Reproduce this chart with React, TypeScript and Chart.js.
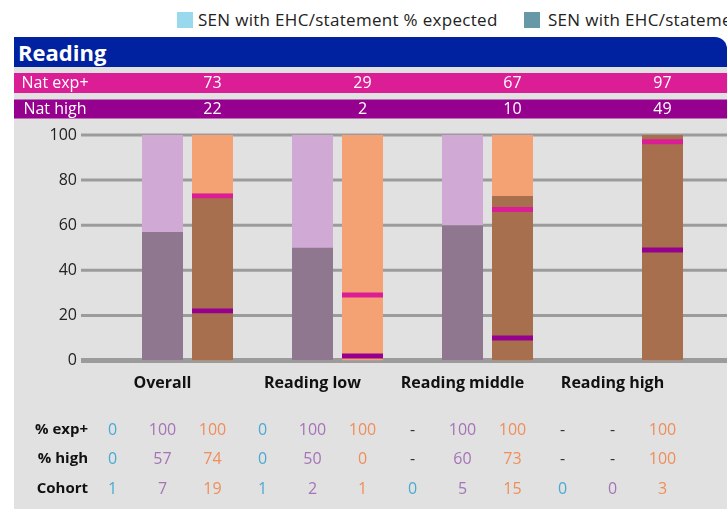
import React, { useEffect, useRef } from 'react';
import { Chart, registerables } from 'chart.js';

Chart.register(...registerables);

const categories = ['Overall', 'Reading low', 'Reading middle', 'Reading high'];
const natExpected = [73, 29, 67, 97];
const natHigh = [22, 2, 10, 49];

const ehcExpected: (number | null)[] = [0, 0, null, null];
const ehcHigh: (number | null)[] = [0, 0, null, null];
const ehcCohort = [1, 1, 0, 0];

const supportExpected: (number | null)[] = [100, 100, 100, null];
const supportHigh: (number | null)[] = [57, 50, 60, null];
const supportCohort = [7, 2, 5, 0];

const noSenExpected: (number | null)[] = [100, 100, 100, 100];
const noSenHigh: (number | null)[] = [74, 0, 73, 100];
const noSenCohort = [19, 1, 15, 3];

const yTicks = [0, 20, 40, 60, 80, 100];
const legendLabels = [
  'SEN with EHC/statement % expected',
  'SEN with EHC/statement % high',
];

const FONT = "'Open Sans', 'Noto Sans', sans-serif";
const C = {
  ehcLight: '#9ad8ee',
  ehcDark: '#6699a8',
  supLight: '#d0aad4',
  supDark: '#8f778f',
  nsLight: '#f4a273',
  nsDark: '#a86f4e',
  pink: '#dc1e96',
  purple: '#96008e',
  grid: '#9b9b9b',
  bg: '#e1e1e1',
  header: '#0022a0',
  tBlue: '#4aaad3',
  tPurple: '#a674b6',
  tOrange: '#f08e5a',
};

const range = (arr: (number | null)[]) => arr.map((v) => (v == null ? null : [0, v]));
const marker = (arr: number[]) => arr.map((v) => [v - 1.1, v + 1.1]);
const fmt = (v: number | null) => (v == null ? '-' : String(v));

// dataset indices
const EHC_META = 0;
const SUP_META = 2;
const NS_META = 6;

const overlayPlugin = {
  id: 'overlay',
  beforeDatasetsDraw(chart: any) {
    const { ctx, chartArea } = chart;
    const y = chart.scales.y;
    ctx.save();
    ctx.strokeStyle = C.grid;
    y.ticks.forEach((t: any) => {
      const py = y.getPixelForValue(t.value);
      ctx.lineWidth = t.value === 0 ? 5 : 3;
      ctx.beginPath();
      ctx.moveTo(chartArea.left - 6.5, py);
      ctx.lineTo(chart.width, py);
      ctx.stroke();
    });
    ctx.restore();
  },
  afterDraw(chart: any) {
    const { ctx } = chart;
    const W = chart.width;
    const ehcMeta = chart.getDatasetMeta(EHC_META);
    const supMeta = chart.getDatasetMeta(SUP_META);
    const nsMeta = chart.getDatasetMeta(NS_META);
    const xs = chart.scales.x;
    ctx.save();
    const rows = [
      { label: 'Nat exp+', vals: natExpected, color: C.pink, top: 73, h: 20 },
      { label: 'Nat high', vals: natHigh, color: C.purple, top: 99.5, h: 19 },
    ];
    rows.forEach((r) => {
      ctx.fillStyle = r.color;
      ctx.fillRect(14, r.top, W - 14, r.h);
      ctx.fillStyle = '#ffffff';
      ctx.textBaseline = 'middle';
      ctx.textAlign = 'center';
      ctx.font = `16px ${FONT}`;
      ctx.fillText(r.label, 55, r.top + r.h / 2 + 0.5);
      r.vals.forEach((v, i) => {
        ctx.fillText(String(v), nsMeta.data[i].x, r.top + r.h / 2 + 0.5);
      });
    });
    ctx.fillStyle = '#111111';
    ctx.font = `bold 16px ${FONT}`;
    ctx.textAlign = 'center';
    categories.forEach((c, i) => {
      ctx.fillText(c, xs.getPixelForValue(i), 383);
    });
    const table = [
      { label: '% exp+', y: 430, vals: [ehcExpected, supportExpected, noSenExpected] },
      { label: '% high', y: 459, vals: [ehcHigh, supportHigh, noSenHigh] },
      { label: 'Cohort', y: 489, vals: [ehcCohort, supportCohort, noSenCohort] },
    ];
    const metas = [ehcMeta, supMeta, nsMeta];
    const colors = [C.tBlue, C.tPurple, C.tOrange];
    table.forEach((row) => {
      ctx.font = `bold 15px ${FONT}`;
      ctx.fillStyle = '#111111';
      ctx.textAlign = 'right';
      ctx.fillText(row.label, 88, row.y);
      ctx.font = `16px ${FONT}`;
      ctx.textAlign = 'center';
      categories.forEach((_, i) => {
        row.vals.forEach((arr, k) => {
          const v = arr[i] as number | null;
          ctx.fillStyle = v == null ? '#333333' : colors[k];
          ctx.fillText(fmt(v), metas[k].data[i].x, row.y);
        });
      });
    });
    ctx.restore();
  },
};

export default function App() {
  const ref = useRef<HTMLCanvasElement | null>(null);

  useEffect(() => {
    if (!ref.current) return;
    const common = { categoryPercentage: 1, barPercentage: 0.82, borderWidth: 0 };
    const chart = new Chart(ref.current, {
      type: 'bar',
      data: {
        labels: categories,
        datasets: [
          { label: legendLabels[1], data: range(ehcHigh) as any, backgroundColor: C.ehcDark, stack: 'ehc', ...common },
          { label: legendLabels[0], data: range(ehcExpected) as any, backgroundColor: C.ehcLight, stack: 'ehc', ...common },
          { label: 'SEN support % high', data: range(supportHigh) as any, backgroundColor: C.supDark, stack: 'sup', ...common },
          { label: 'SEN support % expected', data: range(supportExpected) as any, backgroundColor: C.supLight, stack: 'sup', ...common },
          { label: 'Nat exp+', data: marker(natExpected) as any, backgroundColor: C.pink, stack: 'ns', ...common },
          { label: 'Nat high', data: marker(natHigh) as any, backgroundColor: C.purple, stack: 'ns', ...common },
          { label: 'No SEN % high', data: range(noSenHigh) as any, backgroundColor: C.nsDark, stack: 'ns', ...common },
          { label: 'No SEN % expected', data: range(noSenExpected) as any, backgroundColor: C.nsLight, stack: 'ns', ...common },
        ],
      },
      options: {
        responsive: false,
        animation: false,
        devicePixelRatio: 1,
        layout: { padding: { top: 135, bottom: 148.5, left: 0, right: 39.5 } },
        plugins: { legend: { display: false }, tooltip: { enabled: false }, title: { display: false } },
        scales: {
          x: {
            type: 'category',
            stacked: true,
            display: false,
            grid: { display: false },
          },
          y: {
            stacked: false,
            min: 0,
            max: 100,
            afterBuildTicks: (s: any) => {
              s.ticks = yTicks.map((v) => ({ value: v }));
            },
            afterFit: (s: any) => {
              s.width = 87.5;
            },
            ticks: {
              padding: 10.5,
              color: '#222222',
              font: { family: FONT, size: 16 },
            },
            grid: { display: false, drawTicks: false },
            border: { display: false },
          },
        },
      },
      plugins: [overlayPlugin],
    });
    return () => chart.destroy();
  }, []);

  const legendText = {
    position: 'absolute' as const,
    top: 8,
    fontSize: 17,
    letterSpacing: 0.3,
    lineHeight: '24px',
    color: '#222',
    whiteSpace: 'nowrap' as const,
  };

  return (
    <div
      style={{
        position: 'fixed',
        left: 0,
        top: 0,
        width: 727,
        height: 509,
        overflow: 'hidden',
        background: '#ffffff',
        fontFamily: FONT,
      }}
    >
      <div style={{ position: 'absolute', left: 14, top: 67, width: 713, height: 442, background: C.bg }} />
      <div
        style={{
          position: 'absolute',
          left: 14,
          top: 37,
          width: 713,
          height: 30,
          background: C.header,
          borderTopRightRadius: 12,
          color: '#ffffff',
          fontWeight: 700,
          fontSize: 22,
          lineHeight: '30px',
          paddingLeft: 4,
          boxSizing: 'border-box',
        }}
      >
        Reading
      </div>
      <div style={{ position: 'absolute', left: 177, top: 12, width: 16, height: 16, background: C.ehcLight }} />
      <div style={{ ...legendText, left: 198 }}>{legendLabels[0]}</div>
      <div style={{ position: 'absolute', left: 524, top: 12, width: 16, height: 16, background: C.ehcDark }} />
      <div style={{ ...legendText, left: 548 }}>{legendLabels[1]}</div>
      <canvas ref={ref} width={727} height={509} style={{ position: 'absolute', left: 0, top: 0, width: 727, height: 509 }} />
    </div>
  );
}
